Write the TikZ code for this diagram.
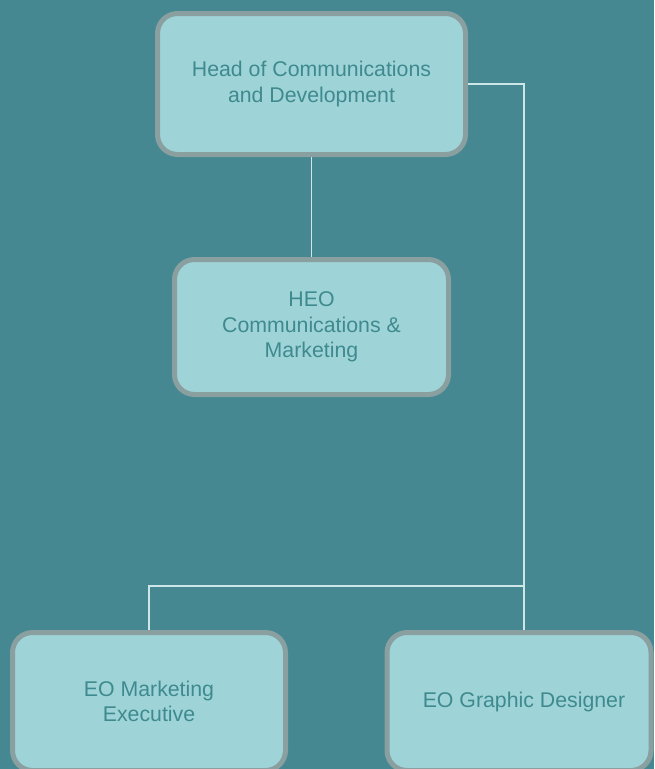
\documentclass[tikz,border=0pt]{standalone}
\usepackage{fontspec}
\setmainfont{Liberation Sans}
\definecolor{bgteal}{HTML}{458891}
\definecolor{boxfill}{HTML}{9ED4D8}
\definecolor{boxedge}{HTML}{899FA0}
\definecolor{boxtext}{HTML}{3F8A8E}
\definecolor{linkcol}{HTML}{CDE6E8}
\begin{document}
\begin{tikzpicture}[x=1pt,y=-1pt,
  orgbox/.style={draw=boxedge, line width=5pt, fill=boxfill, rounded corners=20pt,
    text=boxtext, align=center, inner sep=0pt,
    font=\fontsize{21.3}{25.7}\selectfont},
  link/.style={draw=linkcol, line width=1.6pt}]
\fill[bgteal] (0,0) rectangle (654,769);
\useasboundingbox (0,0) rectangle (654,769);
\node[orgbox, minimum width=308pt, minimum height=141pt] (b1) at (311.5,84) {Head of Communications\\and Development};
\node[orgbox, minimum width=274pt, minimum height=135pt] (b2) at (311.5,327) {HEO\\Communications \&\\Marketing};
\node[orgbox, minimum width=273pt, minimum height=138pt] (b3) at (149,701.5) {EO Marketing\\Executive};
\node[orgbox, minimum width=264pt, minimum height=138pt] (b4) at (519,701.5) {\hspace*{10pt}EO Graphic Designer};
\coordinate (r1) at (524,84);
\coordinate (r2) at (524,586);
\coordinate (l2) at (149,586);
\draw[link] (b1.south) -- (b2.north);
\draw[link] (b1.east) -- (r1) -- (r2) -- (b4.north -| r2);
\draw[link] (r2) -- (l2) -- (b3.north);
\end{tikzpicture}
\end{document}
